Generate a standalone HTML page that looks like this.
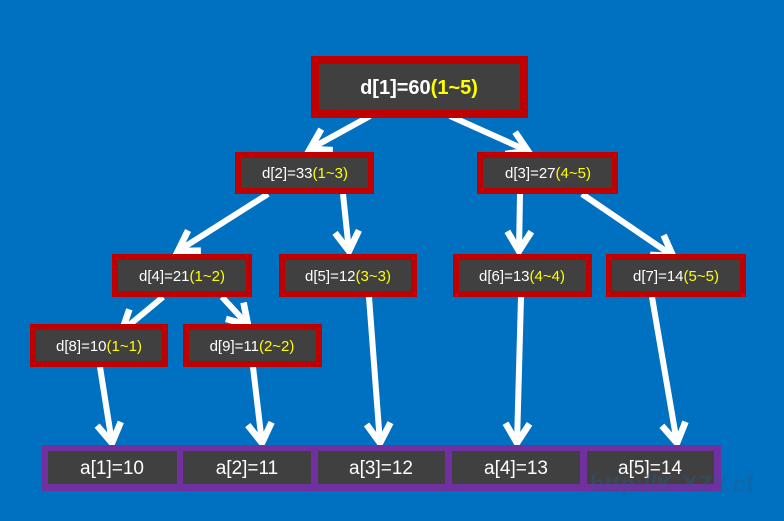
<!DOCTYPE html>
<html><head><meta charset="utf-8"><style>
html,body{margin:0;padding:0;background:#0070c0;}
svg{display:block}
text{font-family:"Liberation Sans","DejaVu Sans",sans-serif;fill:#fff}
.y{fill:#ffff00}
</style></head><body>
<svg width="784" height="521" viewBox="0 0 784 521">
<rect width="784" height="521" fill="#0070c0"/>
<defs>
<marker id="m" viewBox="0 0 10 10" refX="8" refY="5" markerWidth="5" markerHeight="5" orient="auto" markerUnits="strokeWidth">
<polyline points="1.5,1 8,5 1.5,9" fill="none" stroke="#fff" stroke-width="2.2" stroke-linejoin="miter"/>
</marker>
</defs>
<g stroke="#fff" stroke-width="6" fill="none" marker-end="url(#m)">
<line x1="370" y1="116" x2="310" y2="149"/>
<line x1="450" y1="116" x2="528" y2="151"/>
<line x1="268" y1="194" x2="178" y2="251"/>
<line x1="343" y1="194" x2="349" y2="251"/>
<line x1="520" y1="194" x2="519" y2="251"/>
<line x1="582" y1="194" x2="673" y2="256"/>
<line x1="163" y1="297" x2="122" y2="331"/>
<line x1="222" y1="297" x2="248" y2="325"/>
<line x1="100" y1="367" x2="112" y2="443"/>
<line x1="253" y1="367" x2="262" y2="443"/>
<line x1="369" y1="297" x2="380" y2="443"/>
<line x1="521" y1="297" x2="517" y2="443"/>
<line x1="652" y1="297" x2="677" y2="443"/>
</g>
<g stroke="#c00000" fill="#404040">
<rect x="315" y="60" width="209" height="54" stroke-width="8"/>
<rect x="238" y="155" width="133" height="36" stroke-width="6"/>
<rect x="480" y="155" width="135" height="36" stroke-width="6"/>
<rect x="115" y="257" width="134" height="37" stroke-width="6"/>
<rect x="282" y="257" width="132" height="37" stroke-width="6"/>
<rect x="456" y="257" width="133" height="37" stroke-width="6"/>
<rect x="609" y="257" width="134" height="37" stroke-width="6"/>
<rect x="33" y="327" width="132" height="37" stroke-width="6"/>
<rect x="186" y="327" width="133" height="37" stroke-width="6"/>
</g>
<rect x="42" y="445" width="679" height="46" fill="#7030a0"/>
<g fill="#404040">
<rect x="48" y="451" width="129" height="33"/>
<rect x="183" y="451" width="128" height="33"/>
<rect x="318" y="451" width="127" height="33"/>
<rect x="452" y="451" width="128" height="33"/>
<rect x="587" y="451" width="127" height="33"/>
</g>
<text x="419" y="94" font-size="20" font-weight="bold" text-anchor="middle">d[1]=60<tspan class="y">(1~5)</tspan></text>
<g font-size="15" text-anchor="middle">
<text x="305" y="178">d[2]=33<tspan class="y">(1~3)</tspan></text>
<text x="548" y="178">d[3]=27<tspan class="y">(4~5)</tspan></text>
<text x="182" y="281">d[4]=21<tspan class="y">(1~2)</tspan></text>
<text x="348" y="281">d[5]=12<tspan class="y">(3~3)</tspan></text>
<text x="522" y="281">d[6]=13<tspan class="y">(4~4)</tspan></text>
<text x="676" y="281">d[7]=14<tspan class="y">(5~5)</tspan></text>
<text x="99" y="351">d[8]=10<tspan class="y">(1~1)</tspan></text>
<text x="252" y="351">d[9]=11<tspan class="y">(2~2)</tspan></text>
</g>
<g font-size="19" text-anchor="middle">
<text x="112" y="474">a[1]=10</text>
<text x="247" y="474">a[2]=11</text>
<text x="381" y="474">a[3]=12</text>
<text x="516" y="474">a[4]=13</text>
<text x="650" y="474">a[5]=14</text>
</g>
<text x="590" y="492" font-size="24" font-weight="bold" style="fill:#2c5a88;opacity:0.35">http://K-XZY.cf</text>
</svg>
</body></html>
